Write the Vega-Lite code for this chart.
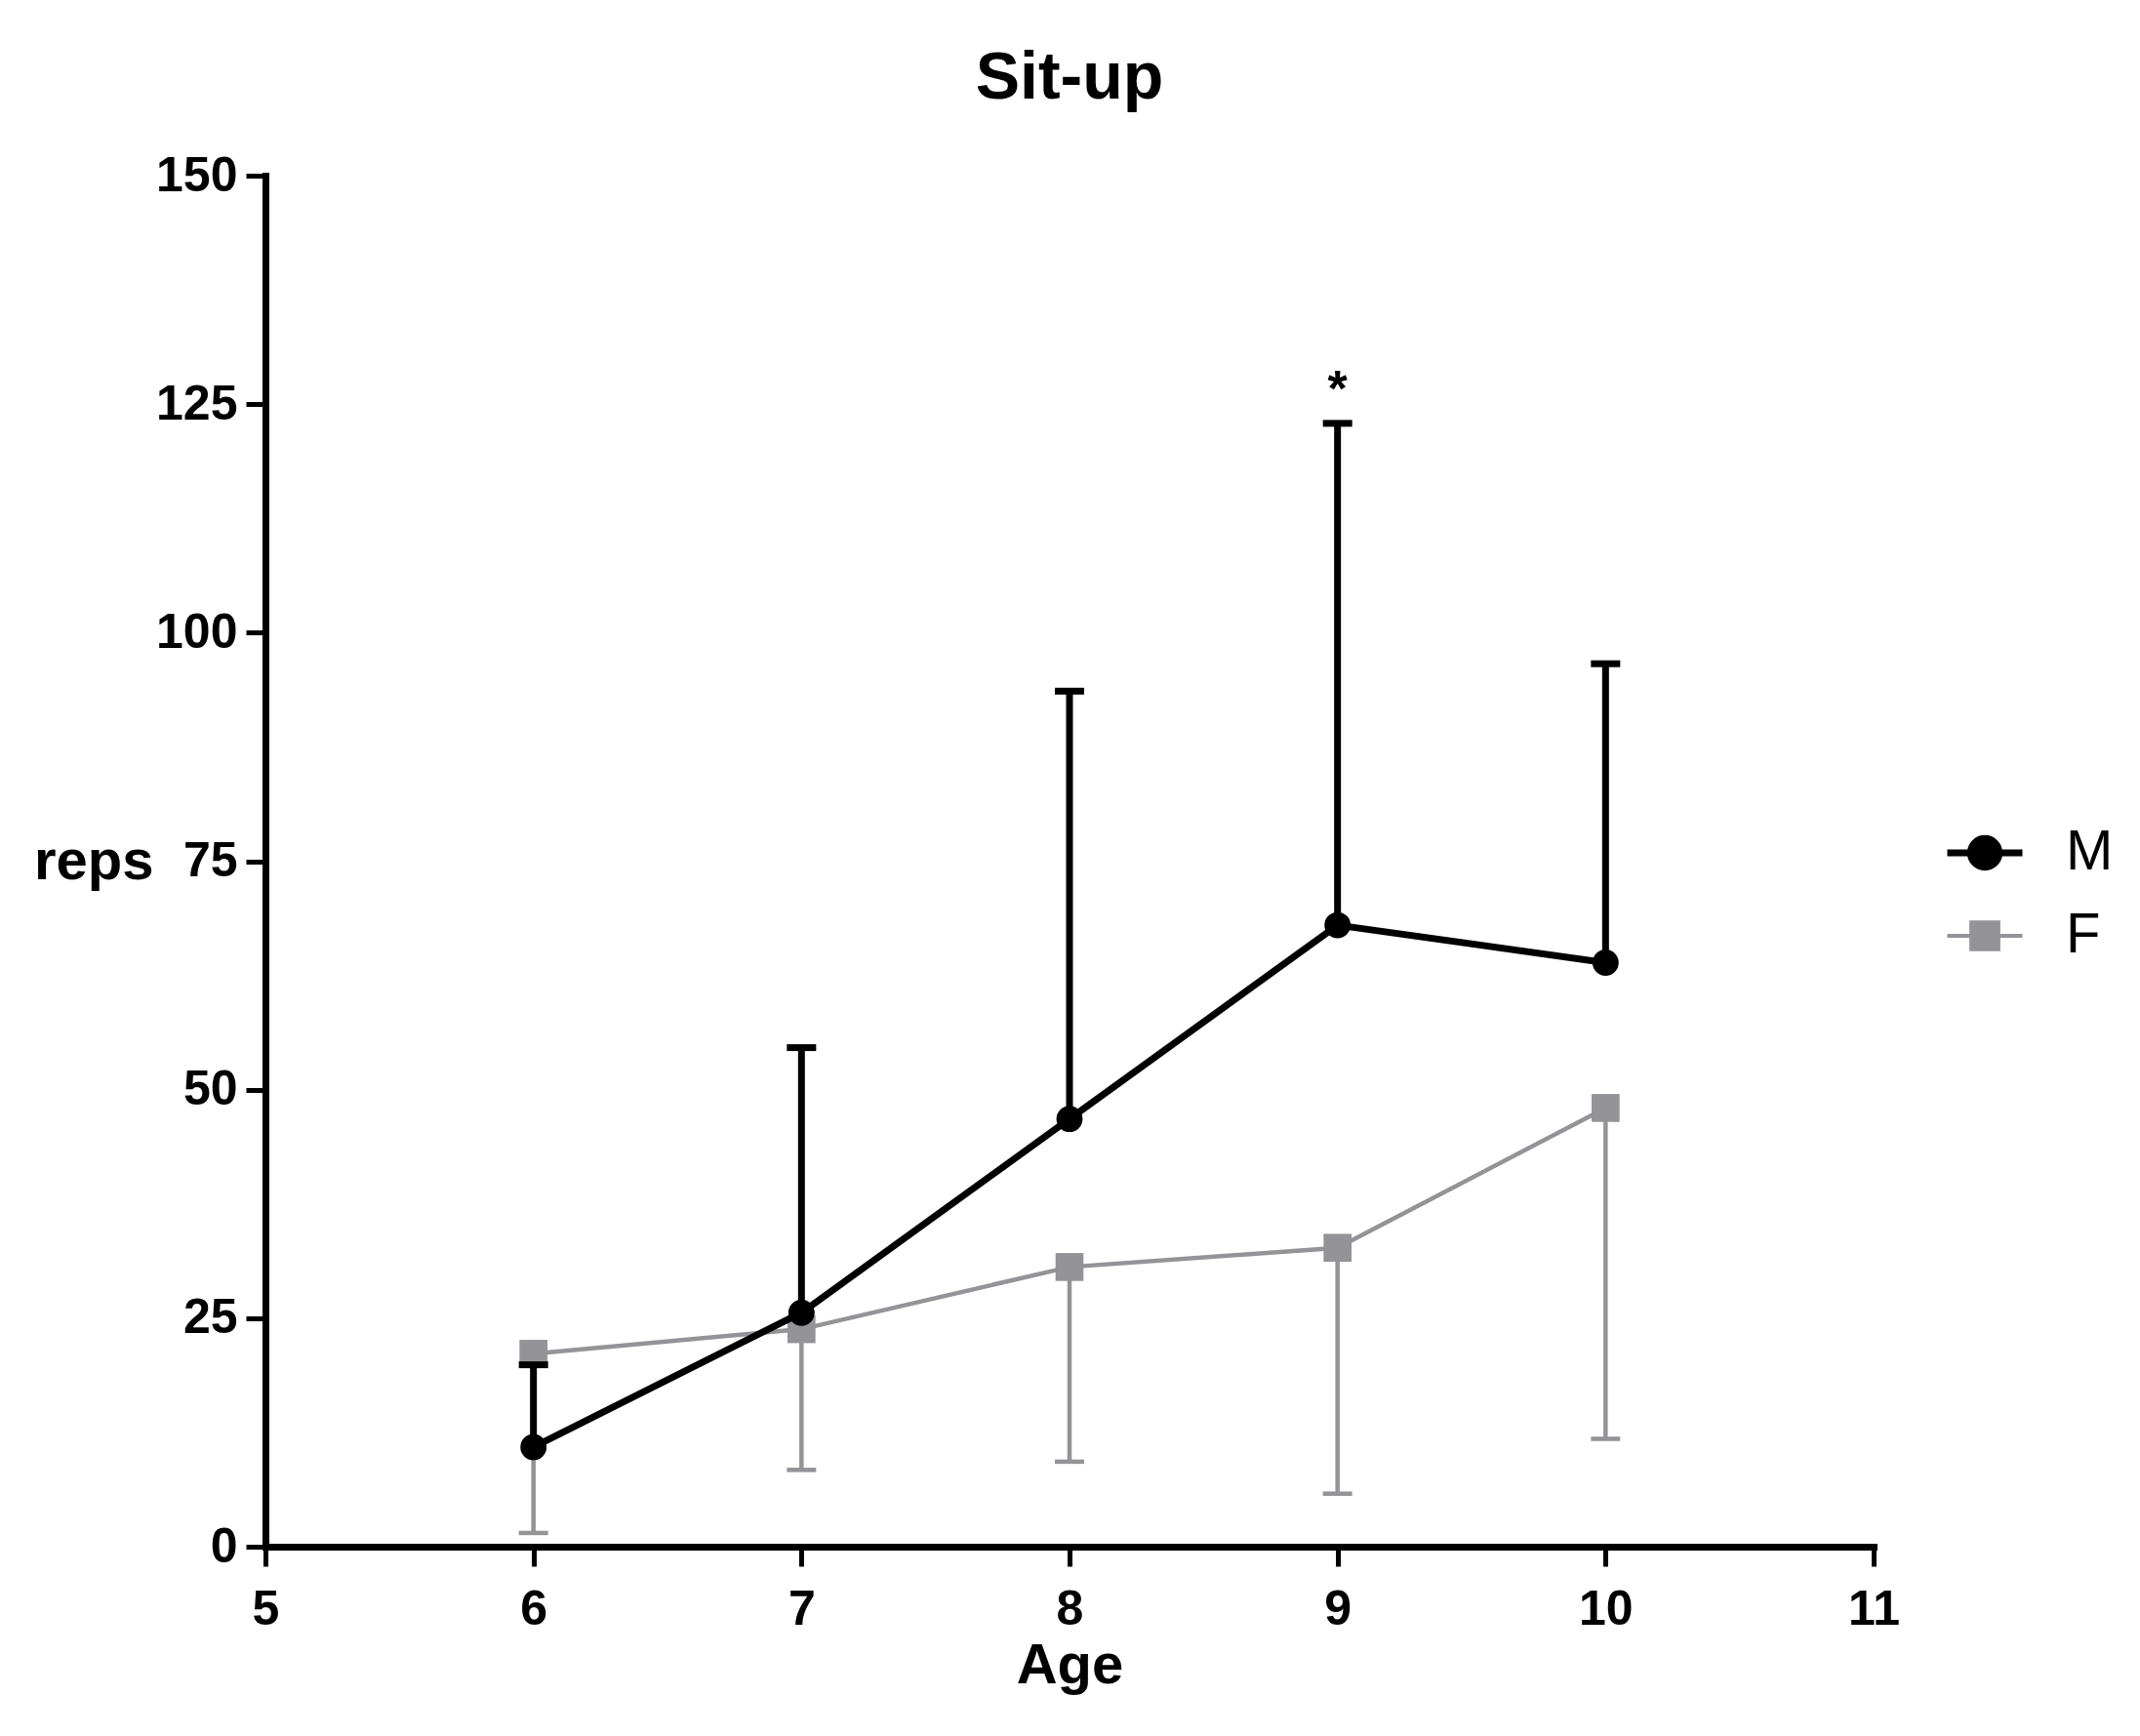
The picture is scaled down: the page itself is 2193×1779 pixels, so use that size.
{
  "$schema": "https://vega.github.io/schema/vega-lite/v6.json",
  "width": 1648,
  "height": 1405,
  "autosize": {"type": "none"},
  "padding": {"left": 272, "top": 180, "right": 273, "bottom": 194},
  "background": "white",
  "title": {
    "text": "Sit-up",
    "font": "Liberation Sans",
    "fontWeight": "bold",
    "fontSize": 68,
    "color": "black",
    "anchor": "middle",
    "offset": 40
  },
  "datasets": {
    "stats": [
      {"age": 6, "sex": "F", "mean": 21.1, "bar": 1.5},
      {"age": 7, "sex": "F", "mean": 23.8, "bar": 8.4},
      {"age": 8, "sex": "F", "mean": 30.6, "bar": 9.3},
      {"age": 9, "sex": "F", "mean": 32.7, "bar": 5.8},
      {"age": 10, "sex": "F", "mean": 48.0, "bar": 11.8},
      {"age": 6, "sex": "M", "mean": 10.9, "bar": 19.9},
      {"age": 7, "sex": "M", "mean": 25.6, "bar": 54.6},
      {"age": 8, "sex": "M", "mean": 46.8, "bar": 93.6},
      {"age": 9, "sex": "M", "mean": 68.0, "bar": 122.9},
      {"age": 10, "sex": "M", "mean": 63.9, "bar": 96.6}
    ],
    "notes": [
      {"age": 9, "y": 127.8, "label": "*"}
    ]
  },
  "data": {"name": "stats"},
  "encoding": {
    "x": {
      "field": "age",
      "type": "quantitative",
      "title": "Age",
      "scale": {"domain": [5, 11], "nice": false, "zero": false},
      "axis": {
        "values": [5, 6, 7, 8, 9, 10, 11],
        "labelPadding": 19,
        "titlePadding": 4,
        "labelFlush": false,
        "labelOverlap": false
      }
    },
    "color": {
      "field": "sex",
      "type": "nominal",
      "scale": {"domain": ["M", "F"], "range": ["#000000", "#939398"]},
      "legend": {
        "title": null,
        "orient": "none",
        "legendX": 1733,
        "legendY": 665,
        "padding": 0,
        "rowPadding": 27,
        "symbolSize": 5929,
        "labelOffset": 54,
        "labelFont": "Liberation Sans",
        "labelFontSize": 58,
        "labelColor": "black",
        "encode": {
          "symbols": {
            "update": {
              "shape": {"signal": "datum.value === 'M' ? 'M-1,0L1,0M-0.38,0A0.38,0.38,0,1,0,0.38,0A0.38,0.38,0,1,0,-0.38,0Z' : 'M-1,0L1,0M-0.36,-0.36L0.36,-0.36L0.36,0.36L-0.36,0.36Z'"},
              "fill": {"signal": "datum.value === 'M' ? '#000000' : '#9e9ea3'"},
              "stroke": {"signal": "datum.value === 'M' ? '#000000' : '#939398'"},
              "strokeWidth": {"signal": "datum.value === 'M' ? 7 : 4"},
              "opacity": {"value": 1}
            }
          }
        }
      }
    }
  },
  "layer": [
    {
      "transform": [{"filter": "datum.sex === 'F'"}],
      "layer": [
        {
          "mark": {"type": "rule", "strokeWidth": 4.5},
          "encoding": {
            "y": {
              "field": "mean",
              "type": "quantitative",
              "title": "reps",
              "scale": {"domain": [0, 150], "nice": false},
              "axis": {
                "values": [0, 25, 50, 75, 100, 125, 150],
                "labelPadding": 9,
                "titleAngle": 0,
                "titleAlign": "right",
                "titleBaseline": "alphabetic",
                "titleX": -115,
                "titleY": 720
              }
            },
            "y2": {"field": "bar"}
          }
        },
        {
          "mark": {"type": "tick", "orient": "horizontal", "size": 30, "thickness": 4.5, "opacity": 1},
          "encoding": {"y": {"field": "bar", "type": "quantitative"}}
        },
        {
          "mark": {"type": "line", "strokeWidth": 4.5},
          "encoding": {"y": {"field": "mean", "type": "quantitative"}}
        },
        {
          "mark": {"type": "point", "shape": "square", "filled": true, "size": 820, "opacity": 1, "color": "#9e9ea3"},
          "encoding": {"y": {"field": "mean", "type": "quantitative"}}
        }
      ]
    },
    {
      "transform": [{"filter": "datum.sex === 'M'"}],
      "layer": [
        {
          "mark": {"type": "rule", "strokeWidth": 7},
          "encoding": {
            "y": {"field": "mean", "type": "quantitative"},
            "y2": {"field": "bar"}
          }
        },
        {
          "mark": {"type": "tick", "orient": "horizontal", "size": 30, "thickness": 7, "opacity": 1},
          "encoding": {"y": {"field": "bar", "type": "quantitative"}}
        },
        {
          "mark": {"type": "line", "strokeWidth": 7},
          "encoding": {"y": {"field": "mean", "type": "quantitative"}}
        },
        {
          "mark": {"type": "point", "shape": "circle", "filled": true, "size": 720, "opacity": 1},
          "encoding": {"y": {"field": "mean", "type": "quantitative"}}
        }
      ]
    },
    {
      "data": {"name": "notes"},
      "mark": {"type": "text", "font": "Liberation Sans", "fontWeight": "bold", "fontSize": 52, "baseline": "alphabetic", "dy": 28},
      "encoding": {
        "y": {"field": "y", "type": "quantitative"},
        "text": {"field": "label"},
        "color": {"value": "black"}
      }
    }
  ],
  "config": {
    "view": {"stroke": null},
    "axis": {
      "grid": false,
      "domainColor": "black",
      "domainWidth": 7,
      "domainCap": "square",
      "tickColor": "black",
      "tickWidth": 5,
      "tickSize": 20,
      "labelFont": "Liberation Sans",
      "labelFontWeight": "bold",
      "labelFontSize": 50,
      "labelColor": "black",
      "titleFont": "Liberation Sans",
      "titleFontWeight": "bold",
      "titleFontSize": 58,
      "titleColor": "black"
    }
  }
}
